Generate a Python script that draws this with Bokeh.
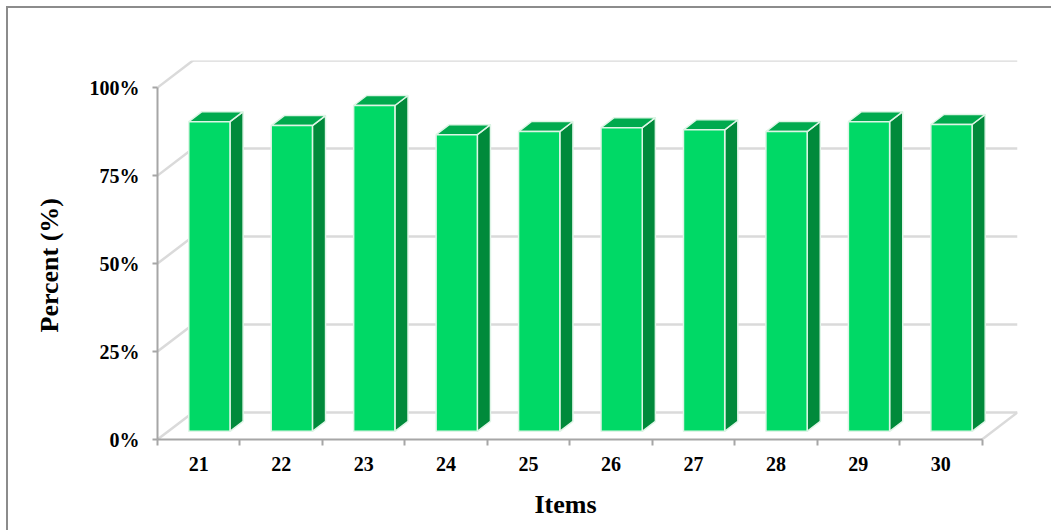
import numpy as np
from bokeh.plotting import figure
from bokeh.models import FixedTicker, Title, Range1d
from bokeh.embed import file_html
from bokeh.resources import INLINE

# ---- data ----
items = ["21", "22", "23", "24", "25", "26", "27", "28", "29", "30"]
percent = [88.0, 86.9, 92.6, 84.3, 85.2, 86.3, 85.7, 85.2, 88.0, 87.2]
y_ticks = [0, 25, 50, 75, 100]
y_tick_labels = ["0%", "25%", "50%", "75%", "100%"]
x_title = "Items"
y_title = "Percent (%)"

# ---- 3D geometry (style) ----
DX = 0.43   # depth of the floor, in category units
DY = 7.7    # depth of the floor, in percent units
F0, F1 = 0.30, 0.67   # front/back depth fraction of the bars
HALF = 0.25           # half width of a bar

FONT = "Liberation Serif"
FRONT = "#00d966"
SIDE = "#008a3b"
TOP = "#00aa4e"
EDGE = "#def5e6"
GRID = "#dadada"
AXIS = "#a6a6a6"

n = len(items)
xs = np.arange(n, dtype=float)
v = np.array(percent, dtype=float)

# canvas starts at (8, 8) inside the page because of a 6px margin + 2px border
p = figure(width=1045, height=524,
           x_range=Range1d(-0.5, n - 0.5 + DX), y_range=Range1d(0, 100 + DY),
           output_backend="svg", toolbar_location=None,
           min_border_left=149, min_border_right=36,
           min_border_top=52, min_border_bottom=93)
p.margin = (6, 0, 0, 6)
p.styles = {"border-left": "2px solid #8c8c8c", "border-top": "2px solid #8c8c8c"}
p.outline_line_color = None
p.xgrid.visible = False
p.ygrid.visible = False
p.background_fill_color = "white"
p.border_fill_color = "white"

# ---- walls / gridlines ----
t = np.array(y_ticks, dtype=float)
x_left = -0.5
x_right = n - 0.5
p.segment(x0=np.full_like(t, x_left + DX), y0=t + DY,
          x1=np.full_like(t, x_right + DX), y1=t + DY,
          line_color=GRID, line_width=2.5)
p.segment(x0=np.full_like(t, x_left), y0=t,
          x1=np.full_like(t, x_left + DX), y1=t + DY,
          line_color=GRID, line_width=2.5)
p.segment(x0=[x_right], y0=[0.0], x1=[x_right + DX], y1=[DY],
          line_color=GRID, line_width=2.5)

# ---- bars ----
dDx = (F1 - F0) * DX
dDy = (F1 - F0) * DY
bx0 = xs - HALF + F0 * DX
bx1 = xs + HALF + F0 * DX
by0 = np.full_like(v, F0 * DY)
by1 = v + F0 * DY

side_xs = [[a, a + dDx, a + dDx, a] for a in bx1]
side_ys = [[b0, b0 + dDy, b1 + dDy, b1] for b0, b1 in zip(by0, by1)]
top_xs = [[a0, a1, a1 + dDx, a0 + dDx] for a0, a1 in zip(bx0, bx1)]
top_ys = [[b1, b1, b1 + dDy, b1 + dDy] for b1 in by1]

p.patches(side_xs, side_ys, fill_color=SIDE, line_color=EDGE, line_width=1.5)
p.patches(top_xs, top_ys, fill_color=TOP, line_color=EDGE, line_width=1.5)
p.quad(left=bx0, right=bx1, bottom=by0, top=by1,
       fill_color=FRONT, line_color=EDGE, line_width=1.5)

# ---- axes ----
p.yaxis.ticker = FixedTicker(ticks=y_ticks)
p.yaxis.major_label_overrides = {k: lab for k, lab in zip(y_ticks, y_tick_labels)}
p.yaxis.bounds = (0, 100)
p.yaxis.axis_line_color = AXIS
p.yaxis.axis_line_width = 2
p.yaxis.major_tick_line_color = AXIS
p.yaxis.major_tick_line_width = 2
p.yaxis.major_tick_out = 5
p.yaxis.major_tick_in = 0
p.yaxis.minor_tick_line_color = None
p.yaxis.major_label_standoff = 13

p.xaxis.ticker = FixedTicker(ticks=list(xs), minor_ticks=list(np.arange(n + 1) - 0.5))
p.xaxis.major_label_overrides = {int(i): lab for i, lab in zip(xs, items)}
p.xaxis.bounds = (x_left, x_right)
p.xaxis.axis_line_color = AXIS
p.xaxis.axis_line_width = 2
p.xaxis.major_tick_line_color = None
p.xaxis.major_tick_out = 0
p.xaxis.major_tick_in = 0
p.xaxis.minor_tick_line_color = AXIS
p.xaxis.minor_tick_line_width = 2
p.xaxis.minor_tick_out = 6
p.xaxis.minor_tick_in = 0
p.xaxis.major_label_standoff = 11

for ax in (p.xaxis, p.yaxis):
    ax.major_label_text_font = FONT
    ax.major_label_text_font_style = "bold"
    ax.major_label_text_font_size = "20px"
    ax.major_label_text_color = "black"

# ---- titles ----
p.add_layout(Title(text=x_title, align="left", offset=377, standoff=28,
                   text_font=FONT, text_font_style="bold",
                   text_font_size="26px", text_color="black"), "below")
p.add_layout(Title(text=y_title, align="left", offset=107, standoff=46,
                   text_font=FONT, text_font_style="bold",
                   text_font_size="26px", text_color="black"), "left")

open("out.html", "w").write(file_html(p, INLINE))
